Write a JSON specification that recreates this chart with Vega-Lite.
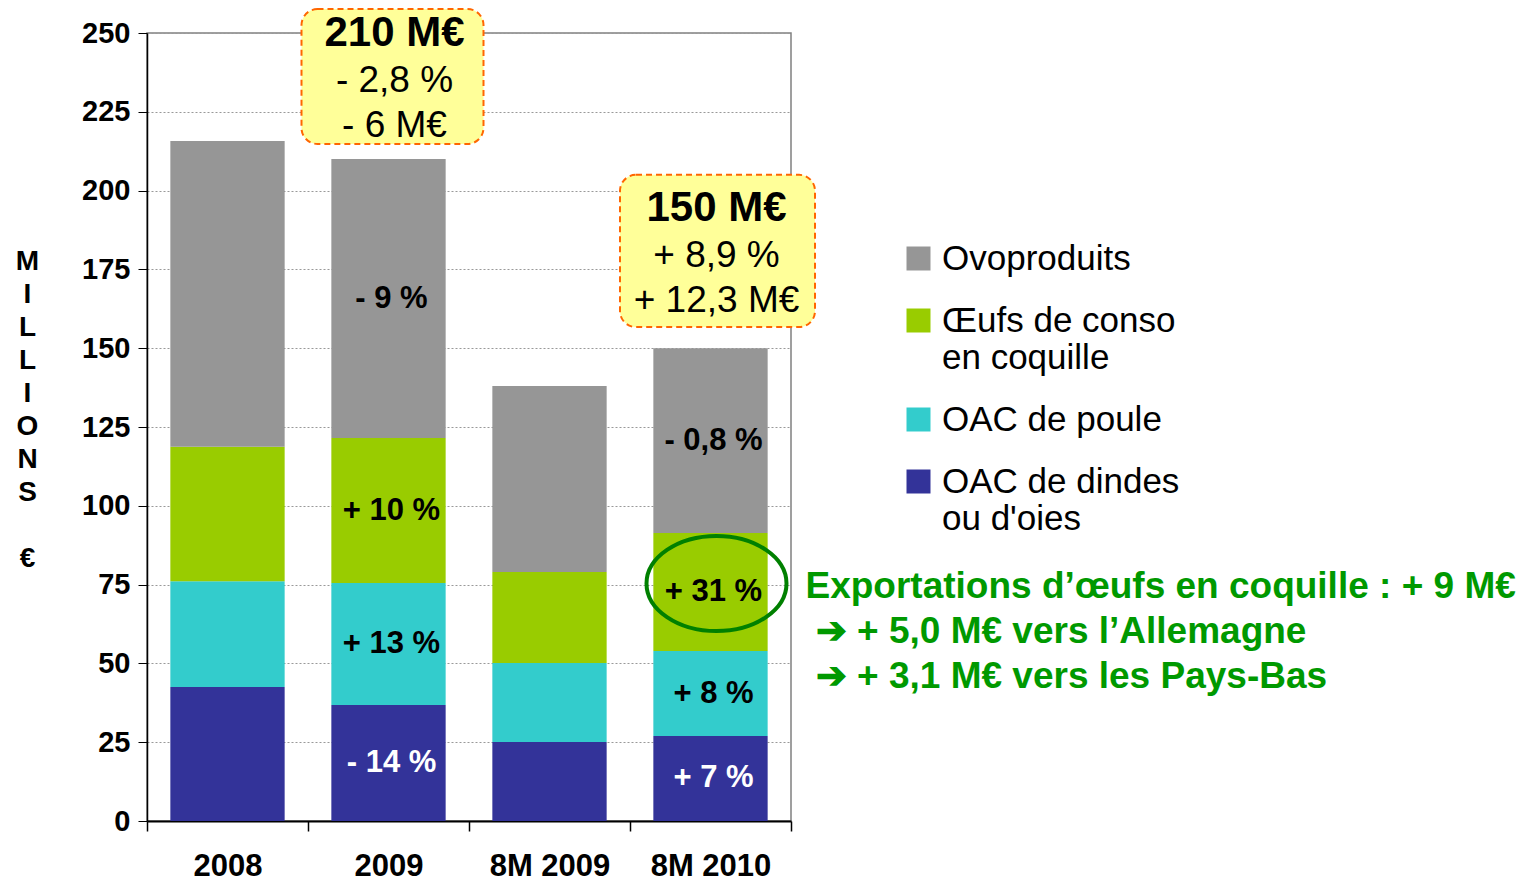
{
  "$schema": "https://vega.github.io/schema/vega-lite/v6.json",
  "width": 644,
  "height": 788,
  "padding": {"left": 15, "top": 8, "right": 0, "bottom": 0},
  "background": "white",
  "config": {
    "view": {"stroke": "#808080", "strokeWidth": 1.5},
    "font": "Liberation Sans"
  },
  "datasets": {
    "bars": [
      {"year": "2008", "cat": "OAC de dindes ou d'oies", "value": 42.5, "label": null},
      {"year": "2008", "cat": "OAC de poule", "value": 33.6, "label": null},
      {"year": "2008", "cat": "Œufs de conso en coquille", "value": 42.6, "label": null},
      {"year": "2008", "cat": "Ovoproduits", "value": 97.0, "label": null},
      {"year": "2009", "cat": "OAC de dindes ou d'oies", "value": 36.8, "label": "- 14 %"},
      {"year": "2009", "cat": "OAC de poule", "value": 38.7, "label": "+ 13 %"},
      {"year": "2009", "cat": "Œufs de conso en coquille", "value": 46.0, "label": "+ 10 %"},
      {"year": "2009", "cat": "Ovoproduits", "value": 88.5, "label": "- 9 %"},
      {"year": "8M 2009", "cat": "OAC de dindes ou d'oies", "value": 25.1, "label": null},
      {"year": "8M 2009", "cat": "OAC de poule", "value": 25.0, "label": null},
      {"year": "8M 2009", "cat": "Œufs de conso en coquille", "value": 28.9, "label": null},
      {"year": "8M 2009", "cat": "Ovoproduits", "value": 59.0, "label": null},
      {"year": "8M 2010", "cat": "OAC de dindes ou d'oies", "value": 27.0, "label": "+ 7 %"},
      {"year": "8M 2010", "cat": "OAC de poule", "value": 26.9, "label": "+ 8 %"},
      {"year": "8M 2010", "cat": "Œufs de conso en coquille", "value": 37.5, "label": "+ 31 %"},
      {"year": "8M 2010", "cat": "Ovoproduits", "value": 58.6, "label": "- 0,8 %"}
    ],
    "notes": [
      {"year": "2009", "top": 257.6, "bottom": 214.8, "head": "210 M€", "lines": ["- 2,8 %", "- 6 M€"]},
      {"year": "8M 2010", "top": 205.0, "bottom": 156.7, "head": "150 M€", "lines": ["+ 8,9 %", "+ 12,3 M€"]}
    ]
  },
  "layer": [
    {
      "data": {"name": "bars"},
      "transform": [
        {"calculate": "indexof([\"OAC de dindes ou d'oies\", \"OAC de poule\", \"Œufs de conso en coquille\", \"Ovoproduits\"], datum.cat)", "as": "ord"}
      ],
      "mark": {"type": "bar", "width": {"band": 0.71}},
      "encoding": {
        "x": {
          "field": "year", "type": "nominal",
          "scale": {"domain": ["2008", "2009", "8M 2009", "8M 2010"], "paddingInner": 0, "paddingOuter": 0},
          "axis": {
            "title": null, "labelAngle": 0, "labelFontSize": 31, "labelFontWeight": "bold", "labelColor": "black",
            "labelPadding": 20, "tickSize": 10, "tickBand": "extent", "tickColor": "black", "tickWidth": 1.5,
            "domainColor": "black", "domainWidth": 2
          }
        },
        "y": {
          "field": "value", "type": "quantitative", "stack": "zero",
          "scale": {"domain": [0, 250], "nice": false},
          "axis": {
            "title": ["M", "I", "L", "L", "I", "O", "N", "S", "\u200b", "€"],
            "titleAngle": 0, "titleAlign": "center", "titleBaseline": "middle",
            "titleX": -120, "titleY": 228,
            "titleFontSize": 28, "titleFontWeight": "bold", "titleColor": "black", "titleLineHeight": 33,
            "values": [0, 25, 50, 75, 100, 125, 150, 175, 200, 225, 250],
            "labelFontSize": 29, "labelFontWeight": "bold", "labelColor": "black", "labelPadding": 8,
            "tickSize": 9, "tickColor": "black", "domainColor": "black", "domainWidth": 1.5,
            "grid": true, "gridColor": "#999999", "gridDash": [2, 2], "gridWidth": 1
          }
        },
        "color": {
          "field": "cat", "type": "nominal",
          "scale": {
            "domain": ["Ovoproduits", "Œufs de conso en coquille", "OAC de poule", "OAC de dindes ou d'oies"],
            "range": ["#969696", "#99CC00", "#33CCCC", "#333399"]
          },
          "legend": {
            "title": null, "orient": "none", "legendX": 754, "legendY": 208,
            "symbolType": "square", "symbolSize": 576, "symbolStrokeWidth": 0,
            "labelFontSize": 35, "labelColor": "black", "labelOffset": 6, "labelLimit": 600,
            "rowPadding": 26,
            "labelExpr": "datum.label == 'Œufs de conso en coquille' ? ['Œufs de conso', 'en coquille'] : datum.label == \"OAC de dindes ou d'oies\" ? ['OAC de dindes', \"ou d'oies\"] : datum.label"
          }
        },
        "order": {"field": "ord", "type": "quantitative"}
      }
    },
    {
      "data": {"name": "bars"},
      "transform": [
        {"calculate": "indexof([\"OAC de dindes ou d'oies\", \"OAC de poule\", \"Œufs de conso en coquille\", \"Ovoproduits\"], datum.cat)", "as": "ord"},
        {"stack": "value", "groupby": ["year"], "sort": [{"field": "ord"}], "as": ["v0", "v1"]},
        {"calculate": "(datum.v0 + datum.v1) / 2", "as": "mid"},
        {"filter": "datum.label != null"}
      ],
      "mark": {"type": "text", "fontSize": 31, "fontWeight": "bold", "align": "center", "baseline": "middle", "dx": 3},
      "encoding": {
        "x": {"field": "year", "type": "nominal"},
        "y": {"field": "mid", "type": "quantitative"},
        "text": {"field": "label"},
        "color": {"condition": {"test": "datum.ord == 0", "value": "white"}, "value": "black"}
      }
    },
    {
      "data": {"name": "bars"},
      "transform": [
        {"calculate": "indexof([\"OAC de dindes ou d'oies\", \"OAC de poule\", \"Œufs de conso en coquille\", \"Ovoproduits\"], datum.cat)", "as": "ord"},
        {"stack": "value", "groupby": ["year"], "sort": [{"field": "ord"}], "as": ["v0", "v1"]},
        {"calculate": "(datum.v0 + datum.v1) / 2", "as": "mid"},
        {"filter": "datum.year == '8M 2010' && datum.ord == 2"}
      ],
      "mark": {
        "type": "point", "shape": "M-1,0 A1,0.68 0 1,1 1,0 A1,0.68 0 1,1 -1,0 Z",
        "size": 19600, "filled": false, "stroke": "#008000", "strokeWidth": 4, "opacity": 1, "yOffset": -8.5, "xOffset": 6
      },
      "encoding": {
        "x": {"field": "year", "type": "nominal"},
        "y": {"field": "mid", "type": "quantitative"}
      }
    },
    {
      "data": {"name": "bars"},
      "transform": [
        {"calculate": "indexof([\"OAC de dindes ou d'oies\", \"OAC de poule\", \"Œufs de conso en coquille\", \"Ovoproduits\"], datum.cat)", "as": "ord"},
        {"stack": "value", "groupby": ["year"], "sort": [{"field": "ord"}], "as": ["v0", "v1"]},
        {"calculate": "(datum.v0 + datum.v1) / 2", "as": "mid"},
        {"filter": "datum.year == '8M 2010' && datum.ord == 2"}
      ],
      "mark": {
        "type": "text", "align": "left", "baseline": "alphabetic", "dx": 95, "dy": 6,
        "fontSize": 37, "fontWeight": "bold", "color": "#009900", "lineHeight": 45
      },
      "encoding": {
        "x": {"field": "year", "type": "nominal"},
        "y": {"field": "mid", "type": "quantitative"},
        "text": {"value": ["Exportations d’œufs en coquille : + 9 M€", "\u200b\u00a0➔ + 5,0 M€ vers l’Allemagne", "\u200b\u00a0➔ + 3,1 M€ vers les Pays-Bas"]}
      }
    },
    {
      "data": {"name": "notes"},
      "transform": [{"filter": "datum.year == '2009'"}],
      "mark": {"type": "bar", "width": 182, "xOffset": 4, "cornerRadius": 16, "fill": "#FFFF99", "stroke": "#FF6600", "strokeWidth": 2, "strokeDash": [6, 4], "clip": false},
      "encoding": {
        "x": {"field": "year", "type": "nominal"},
        "y": {"field": "top", "type": "quantitative"},
        "y2": {"field": "bottom"}
      }
    },
    {
      "data": {"name": "notes"},
      "transform": [{"filter": "datum.year == '8M 2010'"}],
      "mark": {"type": "bar", "width": 195, "xOffset": 7, "cornerRadius": 16, "fill": "#FFFF99", "stroke": "#FF6600", "strokeWidth": 2, "strokeDash": [6, 4], "clip": false},
      "encoding": {
        "x": {"field": "year", "type": "nominal"},
        "y": {"field": "top", "type": "quantitative"},
        "y2": {"field": "bottom"}
      }
    },
    {
      "data": {"name": "notes"},
      "transform": [{"calculate": "(datum.top + datum.bottom) / 2", "as": "mid"}],
      "mark": {"type": "text", "fontSize": 42, "fontWeight": "bold", "align": "center", "baseline": "middle", "dy": -43, "dx": 6, "color": "black"},
      "encoding": {
        "x": {"field": "year", "type": "nominal"},
        "y": {"field": "mid", "type": "quantitative"},
        "text": {"field": "head"}
      }
    },
    {
      "data": {"name": "notes"},
      "transform": [{"calculate": "(datum.top + datum.bottom) / 2", "as": "mid"}],
      "mark": {"type": "text", "fontSize": 37, "align": "center", "baseline": "middle", "dy": 5, "dx": 6, "lineHeight": 45, "color": "black"},
      "encoding": {
        "x": {"field": "year", "type": "nominal"},
        "y": {"field": "mid", "type": "quantitative"},
        "text": {"field": "lines"}
      }
    }
  ]
}
